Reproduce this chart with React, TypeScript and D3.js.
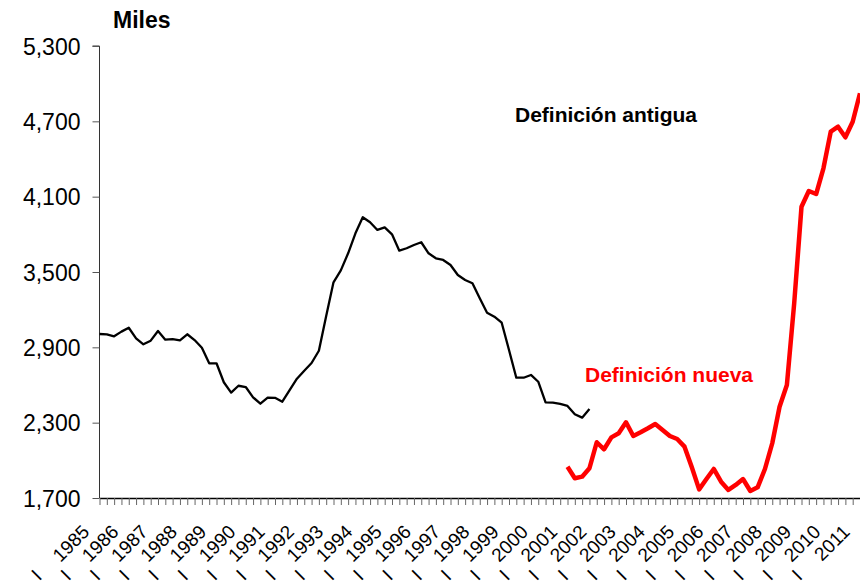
import React, { useEffect, useRef } from 'react';
import * as d3 from 'd3';

// quarterly series, 1985-I .. 2011-I (105 quarters)
const years = d3.range(1985, 2012);
const yTicks = [1700, 2300, 2900, 3500, 4100, 4700, 5300];

// "Definición antigua": 1985-I .. 2001-IV
const antigua = [
  3006, 3004, 2988, 3025, 3056, 2972, 2924, 2953, 3030, 2961, 2966, 2956,
  3004, 2958, 2897, 2773, 2773, 2622, 2539, 2594, 2584, 2502, 2451, 2500,
  2498, 2467, 2560, 2650, 2714, 2775, 2873, 3150, 3418, 3513, 3649, 3808,
  3936, 3896, 3835, 3856, 3800, 3670, 3689, 3715, 3737, 3649, 3609, 3596,
  3556, 3476, 3436, 3410, 3290, 3176, 3144, 3096, 2879, 2658, 2658, 2680,
  2626, 2462, 2459, 2449, 2433, 2367, 2340, 2409,
];

// "Definición nueva": 2001-I .. 2011-I
const nuevaStart = 64;
const nueva = [
  1949, 1857, 1870, 1937, 2144, 2088, 2183, 2215, 2303, 2194, 2223, 2255,
  2289, 2242, 2194, 2170, 2109, 1945, 1769, 1851, 1931, 1830, 1764, 1804,
  1851, 1756, 1785, 1931, 2136, 2427, 2600, 3250, 4020, 4145, 4121, 4326,
  4618, 4657, 4573, 4697, 4923,
];

const nQuarters = (years.length - 1) * 4 + 1;

export default function App() {
  const ref = useRef<SVGSVGElement>(null);

  useEffect(() => {
    const width = 860;
    const height = 584;
    const marginLeft = 99.5;
    const marginRight = 0;
    const marginTop = 46;
    const axisY = 498;
    const font = "'Liberation Sans', Arial, sans-serif";

    const x = d3.scaleLinear()
      .domain([0, nQuarters - 1])
      .range([marginLeft, width - marginRight]);

    const y = d3.scaleLinear()
      .domain([1700, 5300])
      .range([axisY, marginTop]);

    const svg = d3.select(ref.current)
      .attr('width', width)
      .attr('height', height);

    svg.selectAll('*').remove();

    // y axis
    const yAxis = d3.axisLeft(y)
      .tickValues(yTicks)
      .tickSize(7)
      .tickPadding(12)
      .tickFormat(d3.format(','));

    svg.append('g')
      .attr('transform', `translate(${marginLeft},0)`)
      .call(yAxis)
      .call(g => g.select('.domain').attr('stroke', '#333').attr('d', `M-7,${marginTop}H0V${axisY}`))
      .call(g => g.selectAll('.tick line').attr('stroke', '#555'))
      .call(g => g.selectAll('.tick text')
        .attr('font-family', font)
        .attr('font-size', 23)
        .attr('fill', '#000')
        .attr('dy', '0.36em'));

    // x axis with quarter ticks
    const xAxis = d3.axisBottom(x)
      .tickValues(d3.range(nQuarters))
      .tickSize(7)
      .tickSizeOuter(0)
      .tickFormat(() => '');

    svg.append('g')
      .attr('transform', `translate(0,${axisY})`)
      .call(xAxis)
      .call(g => g.select('.domain').attr('stroke', '#000').attr('stroke-width', 1.5))
      .call(g => g.selectAll('.tick line').attr('stroke', '#666'));

    // year labels "I   1985" rotated
    const labels = svg.append('g')
      .attr('font-family', font)
      .attr('font-size', 19)
      .attr('fill', '#000');

    years.forEach((yr, i) => {
      const g = labels.append('g')
        .attr('transform', `translate(${x(i * 4) - 9},533) rotate(-45)`);
      g.append('text')
        .attr('text-anchor', 'end')
        .text(String(yr));
      g.append('text')
        .attr('x', -68)
        .attr('y', -2)
        .attr('text-anchor', 'middle')
        .text('I');
    });

    const line = d3.line<number>()
      .x((d, i) => x(i))
      .y(d => y(d));

    svg.append('path')
      .datum(antigua)
      .attr('fill', 'none')
      .attr('stroke', '#000')
      .attr('stroke-width', 2.3)
      .attr('stroke-linejoin', 'round')
      .attr('d', line);

    const lineNueva = d3.line<number>()
      .x((d, i) => x(nuevaStart + i))
      .y(d => y(d));

    svg.append('path')
      .datum(nueva)
      .attr('fill', 'none')
      .attr('stroke', '#ff0000')
      .attr('stroke-width', 4.5)
      .attr('stroke-linejoin', 'round')
      .attr('d', lineNueva);

    // titles and annotations
    svg.append('text')
      .attr('x', 113)
      .attr('y', 28)
      .attr('font-family', font)
      .attr('font-size', 23)
      .attr('font-weight', 'bold')
      .text('Miles');

    svg.append('text')
      .attr('x', 515)
      .attr('y', 122)
      .attr('font-family', font)
      .attr('font-size', 21)
      .attr('font-weight', 'bold')
      .attr('fill', '#000')
      .text('Definición antigua');

    svg.append('text')
      .attr('x', 585)
      .attr('y', 382)
      .attr('font-family', font)
      .attr('font-size', 21)
      .attr('font-weight', 'bold')
      .attr('fill', '#ff0000')
      .text('Definición nueva');
  }, []);

  return <svg ref={ref} style={{ position: 'absolute', left: 0, top: 0 }}></svg>;
}
